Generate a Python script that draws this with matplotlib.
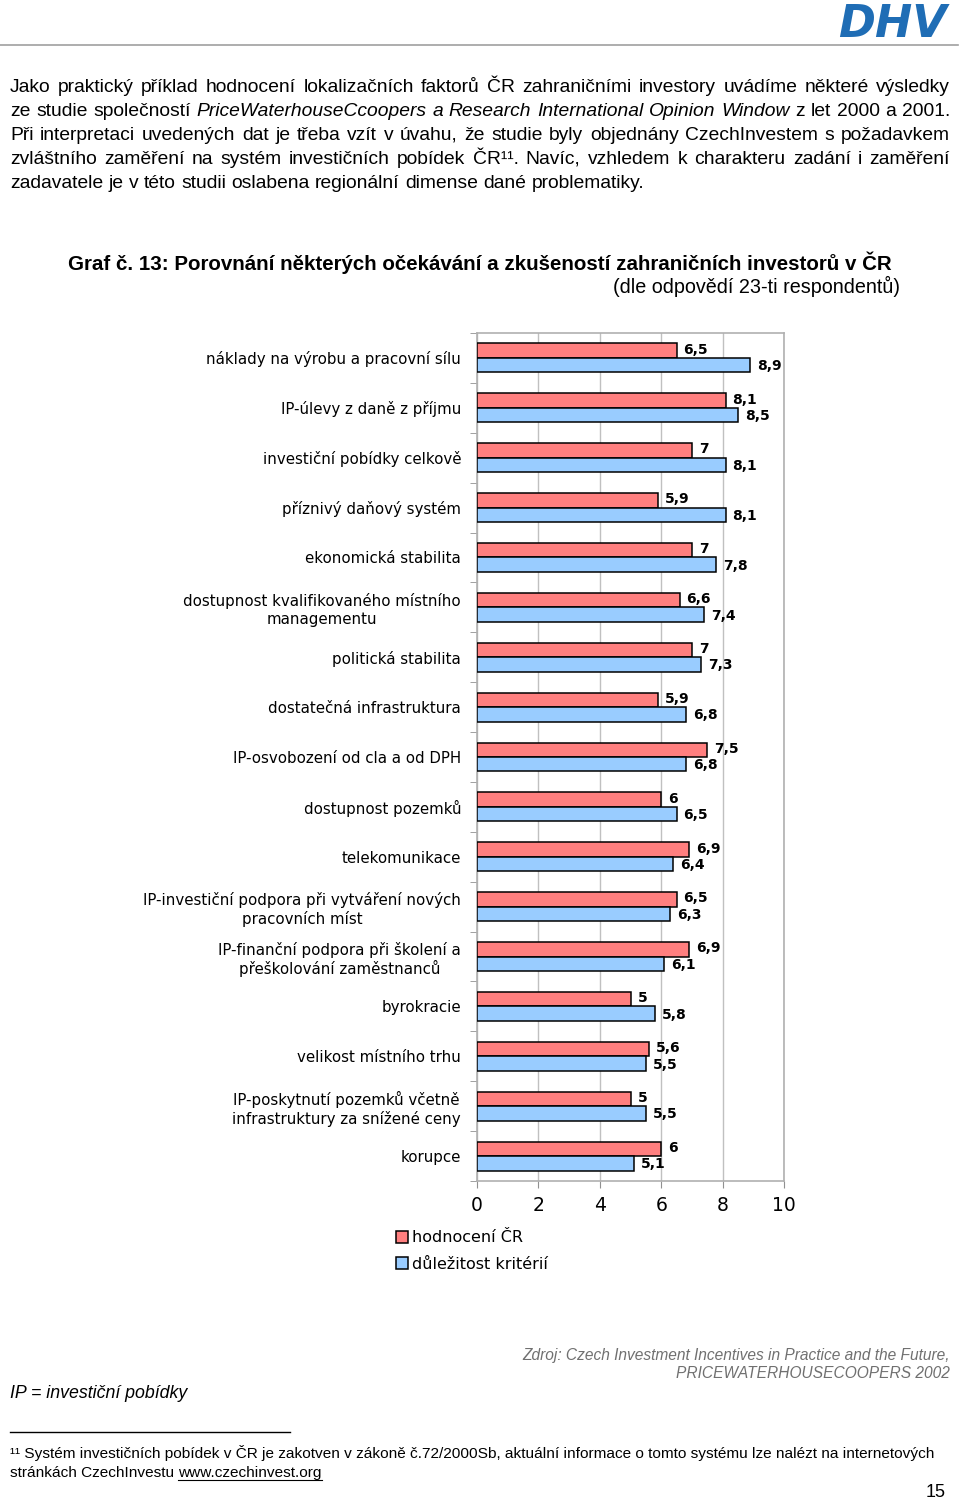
import matplotlib
matplotlib.use("Agg")
import matplotlib.pyplot as plt
import numpy as np

# data (top to bottom)
categories = [
    "náklady na výrobu a pracovní sílu",
    "IP-úlevy z daně z příjmu",
    "investiční pobídky celkově",
    "příznivý daňový systém",
    "ekonomická stabilita",
    "dostupnost kvalifikovaného místního\nmanagementu",
    "politická stabilita",
    "dostatečná infrastruktura",
    "IP-osvobození od cla a od DPH",
    "dostupnost pozemků",
    "telekomunikace",
    "IP-investiční podpora při vytváření nových\npracovních míst",
    "IP-finanční podpora při školení a\npřeškolování zaměstnanců",
    "byrokracie",
    "velikost místního trhu",
    "IP-poskytnutí pozemků včetně\ninfrastruktury za snížené ceny",
    "korupce",
]
hodnoceni = [6.5, 8.1, 7, 5.9, 7, 6.6, 7, 5.9, 7.5, 6, 6.9, 6.5, 6.9, 5, 5.6, 5, 6]
dulezitost = [8.9, 8.5, 8.1, 8.1, 7.8, 7.4, 7.3, 6.8, 6.8, 6.5, 6.4, 6.3, 6.1, 5.8, 5.5, 5.5, 5.1]
xticks = [0, 2, 4, 6, 8, 10]
series_names = ["hodnocení ČR", "důležitost kritérií"]

W, H = 960, 1500
RED = "#ff7f7f"
BLUE = "#99ccff"
TXT = "Liberation Sans"


def fx(x):
    return x / W


def fy(y):
    return 1 - y / H


# put one line of the paragraph, word by word, so it can be justified
def put_line(fig, segments, y, x0=10, x1=950, justify=True, size=13.9):
    r = fig.canvas.get_renderer()
    words = []
    for text, italic in segments:
        for w in text.split():
            t = fig.text(0, fy(y), w, fontsize=size, family=TXT,
                         style="italic" if italic else "normal",
                         va="baseline", ha="left")
            words.append(t)
    widths = [t.get_window_extent(r).width for t in words]
    if justify and len(words) > 1:
        gap = (x1 - x0 - sum(widths)) / (len(words) - 1)
    else:
        gap = size * 0.28 * 100 / 72
    x = x0
    for t, w in zip(words, widths):
        t.set_x(fx(x))
        x += w + gap


fig = plt.figure(figsize=(9.6, 15), dpi=100)
r = fig.canvas.get_renderer()

# page header: line + logo
fig.add_artist(plt.Line2D([0, fx(958)], [fy(45), fy(45)], color="#a0a0a0", lw=1.2))
fig.text(fx(947), fy(37), "DHV", fontsize=32, fontweight="bold", style="italic",
         color="#1f6db5", ha="right", va="baseline", family="DejaVu Sans")

# paragraph
lines = [
    [("Jako praktický příklad hodnocení lokalizačních faktorů ČR zahraničními investory uvádíme některé výsledky", False)],
    [("ze studie společností", False),
     ("PriceWaterhouseCcoopers a Research International Opinion Window", True),
     ("z let 2000 a 2001.", False)],
    [("Při interpretaci uvedených dat je třeba vzít v úvahu, že studie byly objednány CzechInvestem s požadavkem", False)],
    [("zvláštního zaměření na systém investičních pobídek ČR¹¹. Navíc, vzhledem k charakteru zadání i zaměření", False)],
    [("zadavatele je v této studii oslabena regionální dimense dané problematiky.", False)],
]
baselines = [92, 116, 140, 164, 188]
for i, (seg, yb) in enumerate(zip(lines, baselines)):
    put_line(fig, seg, yb, justify=(i < len(lines) - 1))

# chart title
fig.text(fx(68), fy(270), "Graf č. 13: Porovnání některých očekávání a zkušeností zahraničních investorů v ČR",
         fontsize=14.8, fontweight="bold", family=TXT, ha="left", va="baseline")
fig.text(fx(900), fy(293), "(dle odpovědí 23-ti respondentů)", fontsize=14.2, family=TXT,
         ha="right", va="baseline")

# the bar chart
ax = fig.add_axes([fx(477), fy(1181), (784 - 477) / W, (1181 - 333) / H])
y = np.arange(len(categories))
h = 0.29
ax.barh(y - h / 2, hodnoceni, height=h, color=RED, edgecolor="black", lw=1.1,
        label=series_names[0], zorder=3)
ax.barh(y + h / 2, dulezitost, height=h, color=BLUE, edgecolor="black", lw=1.1,
        label=series_names[1], zorder=3)

for yi, a, b in zip(y, hodnoceni, dulezitost):
    ax.annotate(f"{a:g}".replace(".", ","), (a, yi - h / 2 - 0.02), xytext=(5, 0),
                textcoords="offset points", va="center", ha="left",
                fontsize=10, fontweight="bold", family="DejaVu Sans")
    ax.annotate(f"{b:g}".replace(".", ","), (b, yi + h / 2 + 0.02), xytext=(5, 0),
                textcoords="offset points", va="center", ha="left",
                fontsize=10, fontweight="bold", family="DejaVu Sans")

ax.set_xlim(0, 10)
ax.set_ylim(len(categories) - 0.5, -0.5)
ax.set_xticks(xticks)
ax.set_xticklabels([str(t) for t in xticks], fontsize=13.5, family="DejaVu Sans")
ax.set_yticks(y)
ax.set_yticklabels(categories, fontsize=10.8, family="DejaVu Sans", multialignment="center")
ax.set_yticks(np.arange(len(categories) + 1) - 0.5, minor=True)
ax.tick_params(axis="y", which="major", length=0, pad=11.5)
ax.tick_params(axis="y", which="minor", length=5, color="#909090")
ax.tick_params(axis="x", length=5, color="#909090", pad=6)
ax.xaxis.grid(True, color="#c0c0c0", lw=1)
ax.set_axisbelow(True)
for s in ax.spines.values():
    s.set_color("#b0b0b0")
    s.set_linewidth(1.2)

leg = fig.legend(loc="upper left", bbox_to_anchor=(fx(390), fy(1224)), frameon=False,
                 handlelength=0.75, handleheight=0.75, handletextpad=0.25,
                 labelspacing=0.72, borderaxespad=0,
                 prop={"family": "DejaVu Sans", "size": 11.5})

# footer texts
fig.text(fx(950), fy(1360), "Zdroj: Czech Investment Incentives in Practice and the Future,",
         fontsize=11.2, style="italic", color="#707070", family=TXT, ha="right", va="baseline")
fig.text(fx(950), fy(1378), "PRICEWATERHOUSECOOPERS 2002",
         fontsize=11.2, style="italic", color="#707070", family=TXT, ha="right", va="baseline")
fig.text(fx(10), fy(1398), "IP = investiční pobídky", fontsize=12.8, style="italic",
         family=TXT, ha="left", va="baseline")
fig.add_artist(plt.Line2D([fx(10), fx(290)], [fy(1432), fy(1432)], color="black", lw=1))
fig.text(fx(10), fy(1458),
         "¹¹ Systém investičních pobídek v ČR je zakotven v zákoně č.72/2000Sb, aktuální informace o tomto systému lze nalézt na internetových",
         fontsize=11.1, family=TXT, ha="left", va="baseline")
first = fig.text(fx(10), fy(1477), "stránkách CzechInvestu ", fontsize=11.1, family=TXT,
                 ha="left", va="baseline")
x_url = first.get_window_extent(r).x1
url = fig.text(x_url / W, fy(1477), "www.czechinvest.org", fontsize=11.1, family=TXT,
               ha="left", va="baseline")
bb = url.get_window_extent(r)
fig.add_artist(plt.Line2D([bb.x0 / W, bb.x1 / W], [fy(1480), fy(1480)], color="black", lw=0.8))
fig.text(fx(946), fy(1497), "15", fontsize=13, family=TXT, ha="right", va="baseline")

fig.savefig("out.png", dpi=100)
